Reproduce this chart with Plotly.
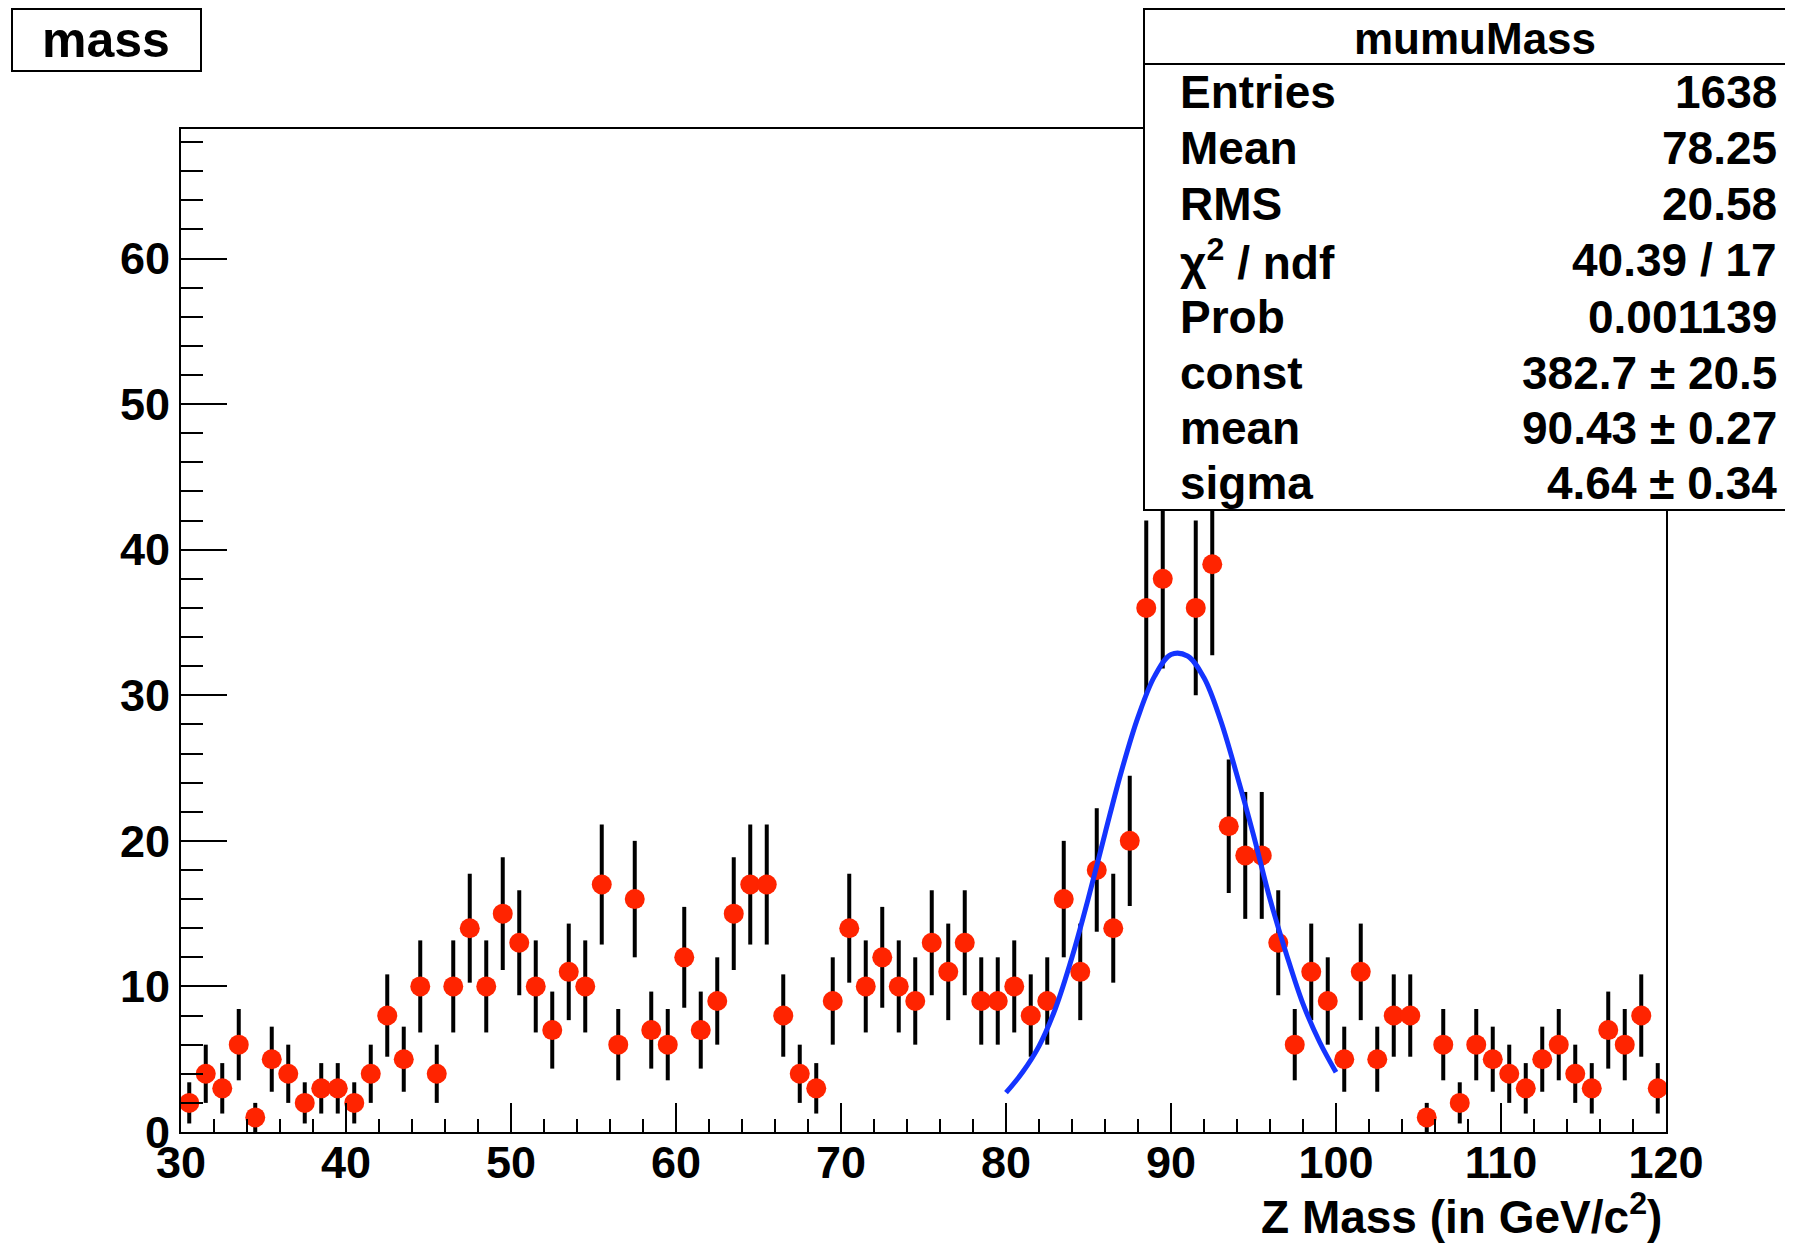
import plotly.graph_objects as go
import numpy as np

# ---------------- data ----------------
hist_xmin = 30.0
bin_width = 1.0
counts = [2, 4, 3, 6, 1, 5, 4, 2, 3, 3,
          2, 4, 8, 5, 10, 4, 10, 14, 10, 15,
          13, 10, 7, 11, 10, 17, 6, 16, 7, 6,
          12, 7, 9, 15, 17, 17, 8, 4, 3, 9,
          14, 10, 12, 10, 9, 13, 11, 13, 9, 9,
          10, 8, 9, 16, 11, 18, 14, 20, 36, 38,
          58, 36, 39, 21, 19, 19, 13, 6, 11, 9,
          5, 11, 5, 8, 8, 1, 6, 2, 6, 5,
          4, 3, 5, 6, 4, 3, 7, 6, 8, 3]
errors = list(np.sqrt(counts))

fit_x = [80, 81, 82, 83, 84, 85, 86, 87, 88, 89, 90,
         91, 92, 93, 94, 95, 96, 97, 98, 99, 100]
fit_y = [2.7, 4.1, 5.9, 8.5, 12.0, 16.1, 20.5, 24.8, 28.5, 31.3, 32.8,
         32.7, 31.2, 28.3, 24.5, 20.4, 16.0, 12.2, 8.8, 6.2, 4.1]

hist_name = "mumuMass"
hist_title = "mass"
x_title = "Z Mass (in GeV/c<sup>2</sup>)"
stat_labels = ["Entries", "Mean", "RMS", "\u03c7<sup>2</sup> / ndf", "Prob",
               "const", "mean", "sigma"]
stat_values = ["1638", "78.25", "20.58", "40.39 / 17", "0.001139",
               "382.7 \u00b1 20.5", "90.43 \u00b1 0.27", "4.64 \u00b1 0.34"]

# ---------------- layout geometry (page pixels) ----------------
OFF = 8  # default body margin of the html page
PAGE_W, PAGE_H = 1793, 1245
W, H = PAGE_W - OFF, PAGE_H - OFF
L, R, T, B = 181, 1666, 129, 1132   # plot frame in page pixels
PW, PH = R - L, B - T

def px(xp):
    return (xp - L) / PW

def py(yp):
    return (B - yp) / PH

FONT = "Liberation Sans, Arial, Helvetica, sans-serif"

fig = go.Figure()
fig.add_trace(go.Scatter(
    x0=hist_xmin + bin_width / 2, dx=bin_width, y=counts,
    mode="markers",
    marker=dict(symbol="circle", size=20, color="rgb(255,36,0)"),
    error_y=dict(type="data", array=errors, visible=True,
                 color="black", thickness=4, width=0),
    showlegend=False,
))
fig.add_trace(go.Scatter(
    x=fit_x, y=fit_y, mode="lines",
    line=dict(color="#1434ff", width=5, shape="spline"),
    showlegend=False,
))

axis_font = dict(family=FONT, size=45, color="black", weight="bold")

fig.update_layout(
    width=W, height=H,
    margin=dict(l=L - OFF, r=PAGE_W - R, t=T - OFF, b=PAGE_H - B, pad=0),
    paper_bgcolor="white", plot_bgcolor="white",
    xaxis=dict(range=[30, 120], dtick=10, tick0=30,
               ticks="inside", ticklen=29, tickwidth=2, tickcolor="black",
               minor=dict(dtick=2, tick0=30, ticks="inside", ticklen=13,
                          tickwidth=2, tickcolor="black", showgrid=False),
               showline=True, linecolor="black", linewidth=2, mirror=True,
               showgrid=False, zeroline=False, tickfont=axis_font,
               ticklabelstandoff=-10),
    yaxis=dict(range=[0, 68.9], dtick=10, tick0=0,
               ticks="inside", ticklen=46, tickwidth=2, tickcolor="black",
               minor=dict(dtick=2, tick0=0, ticks="inside", ticklen=22,
                          tickwidth=2, tickcolor="black", showgrid=False),
               showline=True, linecolor="black", linewidth=2, mirror=True,
               showgrid=False, zeroline=False, tickfont=axis_font,
               ticklabelstandoff=0),
)

shapes = []
annots = []

# title box
shapes.append(dict(type="rect", xref="paper", yref="paper",
                   x0=px(12), x1=px(201), y0=py(71), y1=py(9),
                   line=dict(color="black", width=2), fillcolor="white",
                   layer="above"))
annots.append(dict(text=hist_title, xref="paper", yref="paper",
                   x=px(106), y=py(40), xanchor="center", yanchor="middle",
                   showarrow=False,
                   font=dict(family=FONT, size=50, color="black", weight="bold")))

# stats box
shapes.append(dict(type="rect", xref="paper", yref="paper",
                   x0=px(1144), x1=px(1815), y0=py(510), y1=py(9),
                   line=dict(color="black", width=2), fillcolor="white",
                   layer="above"))
shapes.append(dict(type="line", xref="paper", yref="paper",
                   x0=px(1144), x1=px(1815), y0=py(64), y1=py(64),
                   line=dict(color="black", width=2), layer="above"))
annots.append(dict(text=hist_name, xref="paper", yref="paper",
                   x=px(1475), y=py(38), xanchor="center", yanchor="middle",
                   showarrow=False,
                   font=dict(family=FONT, size=44, color="black", weight="bold")))
row_y = [92, 148, 204, 260, 317, 373, 428, 483]
for lab, val, yy in zip(stat_labels, stat_values, row_y):
    annots.append(dict(text=lab, xref="paper", yref="paper",
                       x=px(1178), y=py(yy), xanchor="left", yanchor="middle",
                       showarrow=False,
                       font=dict(family=FONT, size=46, color="black", weight="bold")))
    annots.append(dict(text=val, xref="paper", yref="paper",
                       x=px(1779), y=py(yy), xanchor="right", yanchor="middle",
                       showarrow=False,
                       font=dict(family=FONT, size=46, color="black", weight="bold")))

# x axis title
annots.append(dict(text=x_title, xref="paper", yref="paper",
                   x=px(1664), y=py(1214), xanchor="right", yanchor="middle",
                   showarrow=False,
                   font=dict(family=FONT, size=46, color="black", weight="bold")))

fig.update_layout(shapes=shapes, annotations=annots)
fig.write_html("out.html")
